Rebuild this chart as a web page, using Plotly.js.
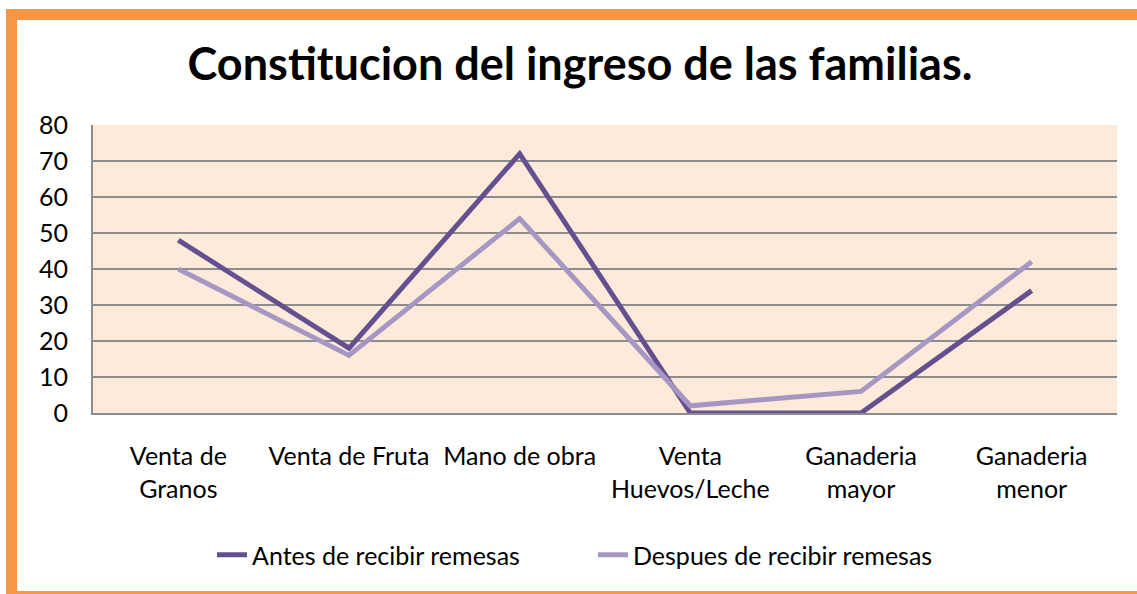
<!DOCTYPE html>
<html>
<head>
<meta charset="utf-8">
<script src="https://cdn.plot.ly/plotly-3.0.1.min.js"></script>
<style>
html,body{margin:0;padding:0;background:#ffffff;}
#wrap{position:relative;width:1137px;height:594px;overflow:hidden;}
#chart{position:absolute;left:0;top:0;width:1137px;height:594px;}
#frame{position:absolute;left:6px;top:9px;width:1160px;height:571px;border:11px solid #F79646;pointer-events:none;}
</style>
</head>
<body>
<div id="wrap">
<div id="chart"></div>
<div id="frame"></div>
</div>
<script>
var categories = ["Venta de<br>Granos", "Venta de Fruta", "Mano de obra", "Venta<br>Huevos/Leche", "Ganaderia<br>mayor", "Ganaderia<br>menor"];
var antes = [48, 18, 72, 0, 0, 34];
var despues = [40, 16, 54, 2, 6, 42];
var seriesNames = ["Antes de recibir remesas", "Despues de recibir remesas"];
var yTicks = [0, 10, 20, 30, 40, 50, 60, 70, 80];
var titleText = "Constitucion del ingreso de las familias.";

var FONT = "Lato, 'Open Sans', sans-serif";

var traces = [
  {x: categories, y: antes, name: seriesNames[0], type: "scatter", mode: "lines",
   line: {color: "#65508F", width: 5}},
  {x: categories, y: despues, name: seriesNames[1], type: "scatter", mode: "lines",
   line: {color: "#A597C2", width: 5}}
];

var layout = {
  width: 1137, height: 594,
  margin: {l: 93, r: 20, t: 125, b: 181, pad: 0},
  paper_bgcolor: "rgba(0,0,0,0)",
  plot_bgcolor: "#FDEADA",
  font: {family: FONT, color: "#000000", size: 25},
  title: {text: "<b>" + titleText + "</b>", font: {family: FONT, size: 45, color: "#000000"},
          xref: "container", x: 580/1137, xanchor: "center",
          yref: "container", y: 1 - 64/594, yanchor: "middle"},
  showlegend: true,
  legend: {orientation: "h", xref: "container", yref: "container",
           x: 212/1137, xanchor: "left", y: 1 - 555/594, yanchor: "middle",
           entrywidth: 336, entrywidthmode: "pixels",
           font: {family: FONT, size: 25, color: "#000000"}, bgcolor: "rgba(0,0,0,0)",
           traceorder: "normal"},
  xaxis: {type: "category", showgrid: false, zeroline: false,
          showline: true, linecolor: "#8C8C8C", linewidth: 2,
          ticks: "", ticklabelstandoff: 20,
          tickfont: {family: FONT, size: 25, color: "#000000"},
          range: [-0.5, 5.5], fixedrange: true},
  yaxis: {range: [0, 80], tickvals: yTicks, ticktext: yTicks.map(String),
          showgrid: true, gridcolor: "#8C8C8C", gridwidth: 2,
          zeroline: false, showline: true, linecolor: "#8C8C8C", linewidth: 2,
          ticks: "", ticklabelstandoff: 18,
          tickfont: {family: FONT, size: 25, color: "#000000"}, fixedrange: true}
};

Plotly.newPlot("chart", traces, layout, {displayModeBar: false, staticPlot: true});
</script>
</body>
</html>
